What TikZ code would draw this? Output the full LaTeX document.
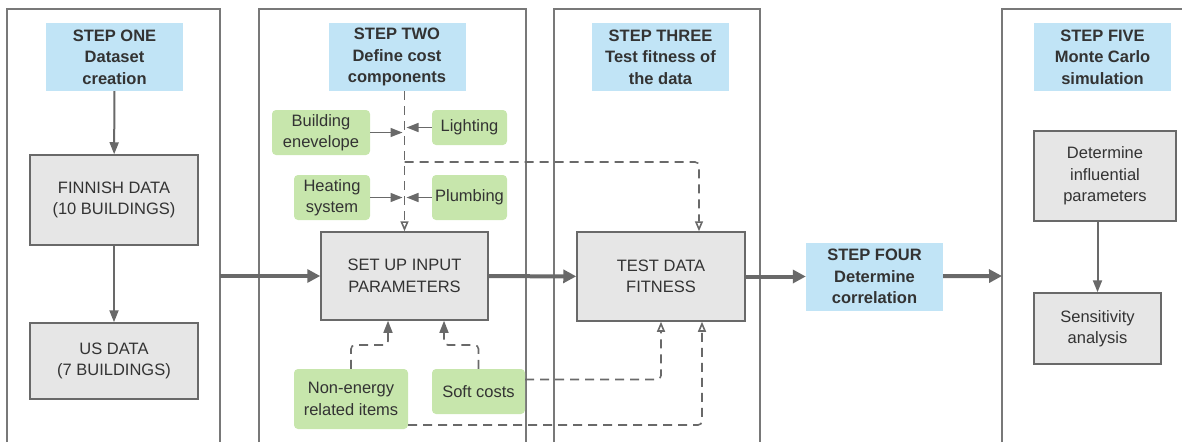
\documentclass[tikz,border=0pt]{standalone}
\usepackage{fontspec}
\setmainfont{Liberation Sans}
\usetikzlibrary{arrows.meta,calc}
\definecolor{stepblue}{RGB}{193,228,246}
\definecolor{costgreen}{RGB}{199,230,172}
\definecolor{boxgray}{RGB}{230,230,230}
\definecolor{linegray}{RGB}{105,105,105}

\begin{document}
\begin{tikzpicture}[x=1pt, y=-1pt,
  font=\fontsize{16.5}{21.5}\selectfont, text=black!80,
  panel/.style={draw=linegray!90, line width=1.6pt},
  head/.style={fill=stepblue, align=center, inner sep=0pt,
               font=\fontsize{16.5}{21.5}\selectfont\bfseries,
               minimum width=137pt, minimum height=68pt},
  data/.style={draw=linegray, fill=boxgray, line width=1.5pt,
               align=center, inner sep=0pt},
  cost/.style={fill=costgreen, rounded corners=4pt, align=center,
               inner sep=0pt},
  flow/.style={-{Triangle[length=13pt, width=13pt]}, line width=4pt,
               linegray},
  link/.style={-{Triangle[length=12pt, width=9pt]}, line width=2pt,
               linegray},
  dashln/.style={line width=1.6pt, linegray, dash pattern=on 9pt off 6pt,
               rounded corners=4pt},
  openhead/.style={-{Triangle[open, length=10pt, width=8pt]}}]
\useasboundingbox (0,0) rectangle (1182,442);
% panels
\draw[panel] (7,442) |- (220,9) -- (220,442);
\draw[panel] (259,442) |- (526,9) -- (526,442);
\draw[panel] (554,442) |- (760,9) -- (760,442);
\draw[panel] (1002,442) |- (1190,9);
\coordinate (p1out) at (220,276);
\coordinate (p5in) at (1002,276);
% step headers
\node[head] (s1) at (114.5,57) {STEP ONE\\Dataset\\creation};
\node[head] (s2) at (397,57) {STEP TWO\\Define cost\\components};
\node[head] (s3) at (660.5,57) {STEP THREE\\Test fitness of\\the data};
\node[head] (s4) at (874.5,276.5) {STEP FOUR\\Determine\\correlation};
\node[head] (s5) at (1102.5,57) {STEP FIVE\\Monte Carlo\\simulation};
% data boxes
\node[data, minimum width=168pt, minimum height=90pt] (fin) at (114,200)
  {FINNISH DATA\\(10 BUILDINGS)};
\node[data, minimum width=168pt, minimum height=76pt] (us) at (114,361)
  {US DATA\\(7 BUILDINGS)};
\node[data, minimum width=167pt, minimum height=88pt] (setup) at (404.5,276)
  {SET UP INPUT\\PARAMETERS};
\node[data, minimum width=168pt, minimum height=89pt] (test) at (661,276.5)
  {TEST DATA\\FITNESS};
\node[data, minimum width=142pt, minimum height=90pt] (infl) at (1105,176)
  {Determine\\influential\\parameters};
\node[data, minimum width=127pt, minimum height=71pt] (sens) at (1097.5,328.5)
  {Sensitivity\\analysis};
% cost components
\node[cost, minimum width=98pt, minimum height=45pt] (build) at (321,132.5)
  {Building\\enevelope};
\node[cost, minimum width=75pt, minimum height=35pt] (light) at (469.5,127.5)
  {Lighting};
\node[cost, minimum width=76pt, minimum height=45pt] (heat) at (332,197.5)
  {Heating\\system};
\node[cost, minimum width=75pt, minimum height=45pt] (plumb) at (469.5,197.5)
  {Plumbing};
\node[cost, minimum width=114pt, minimum height=60pt] (nonen) at (351,399)
  {Non-energy\\related items};
\node[cost, minimum width=93pt, minimum height=45pt] (soft) at (478.5,391.5)
  {Soft costs};
% main flow
\draw[link] (s1) -- (fin);
\draw[link] (fin) -- (us);
\draw[flow] (p1out) -- (setup);
\draw[flow] (setup) -- (test);
\draw[flow] (test) -- (s4);
\draw[flow] (s4) -- (p5in);
\draw[link] (infl.south -| sens.north) -- (sens.north);
% cost components into the inputs
\draw[dashln, openhead] (setup.north |- s2.south) -- (setup.north);
\draw[link, line width=1.6pt, shorten >=2pt] (build) -- (build -| setup.north);
\draw[link, line width=1.6pt, shorten >=2pt] (light) -- (light -| setup.north);
\draw[link, line width=1.6pt, shorten >=2pt] (heat) -- (heat -| setup.north);
\draw[link, line width=1.6pt, shorten >=2pt] (plumb) -- (plumb -| setup.north);
\coordinate (br) at (404.5,162);
\draw[dashln, openhead] (br) -| ($(test.north)+(38,0)$);
\coordinate (ne) at (388,345);
\coordinate (sc) at (444,345);
\draw[dashln, -{Triangle[length=12pt, width=9pt]}] (nonen.north) |- (ne)
  -- (ne |- setup.south);
\draw[dashln, -{Triangle[length=12pt, width=9pt]}] (soft.north) |- (sc)
  -- (sc |- setup.south);
\draw[dashln, openhead] ($(soft.east)+(0,-12)$) -| (test.south);
\draw[dashln, openhead] ($(nonen.east)+(0,26)$) -| ($(test.south)+(41,0)$);
\end{tikzpicture}
\end{document}
